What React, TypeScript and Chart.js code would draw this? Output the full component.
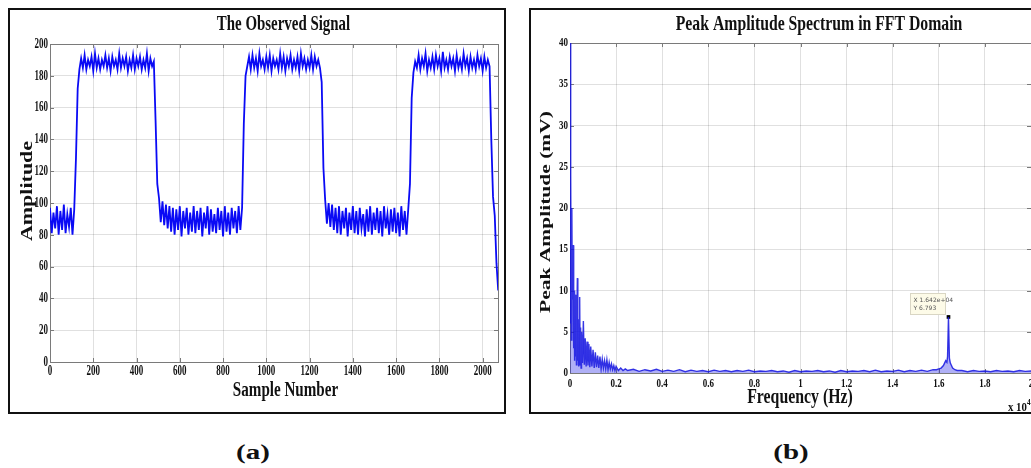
import React, { useEffect, useRef } from 'react';
import { Chart, registerables } from 'chart.js';

Chart.register(...registerables);

const SERIF = '"Liberation Serif", "Times New Roman", serif';
const GRID = 'rgba(0,0,0,0.12)';

// ---------- Panel (a): The Observed Signal (values on an 8-sample grid) ----------
const SAMPLE_STEP = 8;
const sigLow1 = [97, 81, 94, 84, 98, 80, 95, 83, 99, 81, 93, 85, 97, 80, 96];
const sigRise1 = [128, 172, 184];
const sigHigh1 = [191, 185, 193, 184, 190, 186, 192, 183, 194, 185, 191, 184, 190, 186, 193, 185, 191, 183, 192, 186, 190, 184, 194, 185, 191, 186, 192, 183, 190, 185, 193, 184, 191, 186, 192, 184, 190, 185, 194, 183, 191, 186, 189];
const sigFall1 = [152, 112];
const sigLow2 = [103, 88, 101, 86, 99, 84, 98, 82, 97, 80, 96, 83, 98, 79, 95, 84, 97, 80, 94, 82, 98, 81, 95, 83, 97, 79, 94, 84, 98, 80, 96, 82, 93, 81, 97, 83, 95, 79, 98, 82, 94, 80, 97, 84, 95, 81, 98, 83];
const sigRise2 = [97, 150, 180];
const sigHigh2 = [186, 192, 184, 193, 185, 191, 183, 194, 186, 190, 184, 192, 185, 193, 183, 191, 186, 190, 184, 194, 185, 192, 183, 191, 186, 193, 184, 190, 185, 192, 183, 194, 186, 191, 184, 190, 185, 193, 184, 192, 186, 190, 185];
const sigFall2 = [176, 122];
const sigLow3 = [102, 87, 100, 85, 99, 83, 97, 81, 98, 80, 95, 84, 97, 79, 94, 83, 98, 81, 95, 80, 97, 84, 93, 79, 96, 82, 98, 80, 94, 83, 97, 81, 95, 79, 98, 84, 93, 80, 96, 82, 97, 81, 94, 79, 98, 83, 95, 80, 96];
const sigRise3 = [112, 166, 182];
const sigHigh3 = [189, 185, 193, 184, 191, 186, 194, 183, 190, 185, 192, 184, 193, 186, 191, 183, 195, 185, 190, 184, 192, 186, 191, 183, 193, 185, 190, 184, 194, 186, 191, 183, 192, 185, 190, 184, 193, 186, 191, 183, 192, 185, 190, 186];
const sigEnd = [140, 104, 92, 62, 45];

const sampleTicks = [0, 200, 400, 600, 800, 1000, 1200, 1400, 1600, 1800, 2000];
const sampleTickLabels = ['0', '200', '400', '600', '800', '1000', '1200', '1400', '1600', '1800', '2000'];
const ampTicksA = [0, 20, 40, 60, 80, 100, 120, 140, 160, 180, 200];
const ampTickLabelsA = ['0', '20', '40', '60', '80', '100', '120', '140', '160', '180', '200'];

// ---------- Panel (b): Peak Amplitude Spectrum (frequency in units of 10^4 Hz) ----------
const specLowFreq = [0, 0.002, 0.004, 0.006, 0.008, 0.010, 0.012, 0.014, 0.016, 0.018, 0.020, 0.022, 0.024, 0.026, 0.028, 0.030, 0.032, 0.034, 0.036, 0.038, 0.040, 0.042, 0.044, 0.046, 0.048, 0.050, 0.054, 0.058, 0.062, 0.066, 0.070, 0.074, 0.078, 0.082, 0.086, 0.090, 0.095, 0.100, 0.105, 0.110, 0.115, 0.120, 0.125, 0.130, 0.135, 0.140, 0.145, 0.150, 0.155, 0.160, 0.165, 0.170, 0.175, 0.180, 0.185, 0.190, 0.195, 0.200, 0.210, 0.220, 0.230, 0.240, 0.250];
const specLowAmp = [42, 6, 24, 4, 20, 9, 12, 15.5, 3, 10, 1.5, 9.5, 2, 8.5, 1, 7.5, 11.5, 1.5, 6.5, 0.8, 6, 9.2, 1, 5.5, 0.6, 5, 1.2, 6.3, 1, 4.2, 0.8, 3.8, 0.9, 3.5, 0.7, 3.2, 0.8, 2.8, 0.6, 2.5, 0.7, 2.1, 0.6, 2.0, 0.5, 1.7, 0.6, 1.5, 0.5, 1.6, 0.4, 1.3, 0.5, 1.1, 0.4, 0.9, 0.3, 0.8, 0.3, 0.6, 0.3, 0.5, 0.3];
const SPEC_GRID_STEP = 0.025;
const specMidStart = 0.275;
const specMidAmp = [0.45, 0.2, 0.4, 0.25, 0.45, 0.2, 0.35, 0.2, 0.4, 0.15, 0.35, 0.2, 0.3, 0.15, 0.35, 0.2, 0.3, 0.15, 0.3, 0.2, 0.35, 0.15, 0.25, 0.2, 0.3, 0.15, 0.25, 0.1, 0.3, 0.15, 0.25, 0.2, 0.3, 0.15, 0.25, 0.1, 0.3, 0.15, 0.25, 0.2, 0.3, 0.15, 0.35, 0.15, 0.25, 0.2, 0.35, 0.15, 0.3, 0.2, 0.35, 0.2, 0.4];
const specPeakFreq = [1.59, 1.6, 1.61, 1.62, 1.625, 1.63, 1.635, 1.638, 1.642, 1.646, 1.65, 1.655, 1.66, 1.67, 1.68];
const specPeakAmp = [0.4, 0.5, 0.6, 0.9, 1.2, 1.5, 1.3, 2.0, 6.793, 1.8, 1.2, 0.9, 0.6, 0.4, 0.3];
const specTailStart = 1.7;
const specTailAmp = [0.3, 0.15, 0.3, 0.2, 0.25, 0.15, 0.3, 0.2, 0.25, 0.15, 0.3, 0.2, 0.25];

const peakFreq = 1.642;
const peakAmp = 6.793;
const datatipLines = ['X 1.642e+04', 'Y 6.793'];

const freqTicks = [0, 0.2, 0.4, 0.6, 0.8, 1, 1.2, 1.4, 1.6, 1.8, 2];
const freqTickLabels = ['0', '0.2', '0.4', '0.6', '0.8', '1', '1.2', '1.4', '1.6', '1.8', '2'];
const ampTicksB = [0, 5, 10, 15, 20, 25, 30, 35, 40];
const ampTickLabelsB = ['0', '5', '10', '15', '20', '25', '30', '35', '40'];

// ---------- build points ----------
const signalY = [
  ...sigLow1, ...sigRise1, ...sigHigh1, ...sigFall1, ...sigLow2, ...sigRise2,
  ...sigHigh2, ...sigFall2, ...sigLow3, ...sigRise3, ...sigHigh3, ...sigEnd,
];
const signalPoints = signalY.map((y, i) => ({ x: i * SAMPLE_STEP, y }));

const spectrumPoints = [
  ...specLowFreq.map((x, i) => ({ x, y: specLowAmp[i] })),
  ...specMidAmp.map((y, i) => ({ x: specMidStart + i * SPEC_GRID_STEP, y })),
  ...specPeakFreq.map((x, i) => ({ x, y: specPeakAmp[i] })),
  ...specTailAmp.map((y, i) => ({ x: specTailStart + i * SPEC_GRID_STEP, y })),
];

type TextSpec = {
  text: string; x: number; y: number; size: number; sx: number;
  align?: CanvasTextAlign; rotate?: boolean;
};

function drawText(
  ctx: CanvasRenderingContext2D, s: string, x: number, y: number, size: number, sx: number,
  align: CanvasTextAlign = 'center', baseline: CanvasTextBaseline = 'alphabetic',
  rotate = false, font = `bold ${size}px ${SERIF}`, color = '#111'
) {
  ctx.save();
  ctx.translate(x, y);
  ctx.scale(sx, 1);
  if (rotate) ctx.rotate(-Math.PI / 2);
  ctx.font = font;
  ctx.fillStyle = color;
  ctx.textAlign = align;
  ctx.textBaseline = baseline;
  ctx.fillText(s, 0, 0);
  ctx.restore();
}

function makeDecor(o: {
  xTicks: number[]; xLabels: string[]; yTicks: number[]; yLabels: string[];
  tickSize: number; tickSx: number; xLabelBaseline: number; yLabelRight: number;
  texts: TextSpec[]; after?: (chart: any) => void;
}) {
  return {
    id: 'decor',
    beforeDatasetsDraw(chart: any) {
      const { ctx, chartArea: a, scales } = chart;
      ctx.save();
      ctx.strokeStyle = '#7a7a7a';
      ctx.lineWidth = 1;
      ctx.beginPath();
      o.xTicks.forEach((v) => {
        const p = Math.round(scales.x.getPixelForValue(v)) + 0.5;
        ctx.moveTo(p, a.bottom); ctx.lineTo(p, a.bottom - 4);
        ctx.moveTo(p, a.top); ctx.lineTo(p, a.top + 4);
      });
      o.yTicks.forEach((v) => {
        const p = Math.round(scales.y.getPixelForValue(v)) + 0.5;
        ctx.moveTo(a.left, p); ctx.lineTo(a.left + 4, p);
        ctx.moveTo(a.right, p); ctx.lineTo(a.right - 4, p);
      });
      ctx.stroke();
      ctx.strokeRect(Math.round(a.left) + 0.5, Math.round(a.top) + 0.5,
        Math.round(a.right - a.left), Math.round(a.bottom - a.top));
      ctx.restore();
    },
    afterDraw(chart: any) {
      const { ctx, scales } = chart;
      o.xTicks.forEach((v, i) => {
        drawText(ctx, o.xLabels[i], scales.x.getPixelForValue(v), o.xLabelBaseline, o.tickSize, o.tickSx, 'center');
      });
      o.yTicks.forEach((v, i) => {
        drawText(ctx, o.yLabels[i], o.yLabelRight, scales.y.getPixelForValue(v), o.tickSize, o.tickSx, 'right', 'middle');
      });
      o.texts.forEach((t) => {
        drawText(ctx, t.text, t.x, t.y, t.size, t.sx, t.align ?? 'center', 'alphabetic', !!t.rotate);
      });
      if (o.after) o.after(chart);
    },
  };
}

function hiddenScale(min: number, max: number, ticks: number[]) {
  return {
    type: 'linear' as const,
    min,
    max,
    afterBuildTicks: (s: any) => { s.ticks = ticks.map((v) => ({ value: v })); },
    ticks: { display: false },
    grid: { color: GRID, lineWidth: 1, drawTicks: false },
    border: { display: false },
  };
}

export default function App() {
  const refA = useRef<HTMLCanvasElement>(null);
  const refB = useRef<HTMLCanvasElement>(null);

  useEffect(() => {
    const chartA = new Chart(refA.current as HTMLCanvasElement, {
      type: 'line',
      data: {
        datasets: [{
          data: signalPoints,
          borderColor: '#0a0af5',
          borderWidth: 1.8,
          pointRadius: 0,
          fill: false,
          tension: 0,
        }],
      },
      options: {
        animation: false,
        responsive: false,
        events: [],
        layout: { padding: { left: 41, top: 35, right: 6, bottom: 50 } },
        plugins: { legend: { display: false }, tooltip: { enabled: false }, title: { display: false } },
        scales: {
          x: hiddenScale(0, 2071, sampleTicks),
          y: hiddenScale(0, 200, ampTicksA),
        },
      } as any,
      plugins: [makeDecor({
        xTicks: sampleTicks, xLabels: sampleTickLabels,
        yTicks: ampTicksA, yLabels: ampTickLabelsA,
        tickSize: 15, tickSx: 0.6, xLabelBaseline: 366, yLabelRight: 39,
        texts: [
          { text: 'The Observed Signal', x: 274.5, y: 20.5, size: 21, sx: 0.71 },
          { text: 'Sample Number', x: 276.5, y: 386.5, size: 20, sx: 0.755 },
          { text: 'Amplitude', x: 22.5, y: 182, size: 22, sx: 0.73, rotate: true },
        ],
      })],
    });

    const chartB = new Chart(refB.current as HTMLCanvasElement, {
      type: 'line',
      data: {
        datasets: [
          {
            data: spectrumPoints,
            borderColor: 'rgba(20,20,225,0.85)',
            backgroundColor: 'rgba(30,30,230,0.35)',
            borderWidth: 1.4,
            pointRadius: 0,
            fill: 'origin',
            tension: 0,
          },
          {
            data: [{ x: peakFreq, y: peakAmp }],
            showLine: false,
            pointStyle: 'rect',
            pointRadius: 2.6,
            backgroundColor: '#000',
            borderColor: '#000',
            borderWidth: 0,
          },
        ],
      },
      options: {
        animation: false,
        responsive: false,
        events: [],
        layout: { padding: { left: 40, top: 33, right: 9, bottom: 40 } },
        plugins: { legend: { display: false }, tooltip: { enabled: false }, title: { display: false }, filler: { propagate: false } },
        scales: {
          x: hiddenScale(0, 2, freqTicks),
          y: hiddenScale(0, 40, ampTicksB),
        },
      } as any,
      plugins: [makeDecor({
        xTicks: freqTicks, xLabels: freqTickLabels,
        yTicks: ampTicksB, yLabels: ampTickLabelsB,
        tickSize: 12, tickSx: 0.75, xLabelBaseline: 377, yLabelRight: 38,
        texts: [
          { text: 'Peak Amplitude Spectrum in FFT Domain', x: 289, y: 20, size: 21, sx: 0.75 },
          { text: 'Frequency (Hz)', x: 270, y: 393, size: 22, sx: 0.72 },
          { text: 'Peak Amplitude (mV)', x: 19.5, y: 202, size: 21.5, sx: 0.7, rotate: true },
          { text: 'x 10', x: 478, y: 401, size: 12, sx: 0.9, align: 'left' },
          { text: '4', x: 497, y: 395, size: 8, sx: 0.9, align: 'left' },
        ],
        after: (chart: any) => {
          const { ctx, scales } = chart;
          const mx = scales.x.getPixelForValue(peakFreq);
          const my = scales.y.getPixelForValue(peakAmp);
          const x0 = Math.round(mx - 38) + 0.5;
          const y0 = Math.round(my - 24) + 0.5;
          ctx.save();
          ctx.fillStyle = '#fdfbe8';
          ctx.strokeStyle = '#d9d6c4';
          ctx.lineWidth = 1;
          ctx.fillRect(x0, y0, 35, 21);
          ctx.strokeRect(x0, y0, 35, 21);
          ctx.restore();
          datatipLines.forEach((line, i) => {
            drawText(ctx, line, x0 + 3, y0 + 8 + i * 8, 6, 1, 'left', 'alphabetic', false,
              `6px "DejaVu Sans", sans-serif`, '#555');
          });
        },
      })],
    });

    return () => {
      chartA.destroy();
      chartB.destroy();
    };
  }, []);

  const panelLabel = (cx: number, text: string) => (
    <div
      style={{
        position: 'absolute', left: cx - 50, top: 439, width: 100, height: 26,
        textAlign: 'center', font: `bold 20px ${SERIF}`, lineHeight: '26px', color: '#111',
        transform: 'scaleX(1.45)', transformOrigin: 'center',
      }}
    >
      {text}
    </div>
  );

  return (
    <div style={{ position: 'fixed', left: 0, top: 0, width: 1031, height: 468, overflow: 'hidden', background: '#fff' }}>
      <div style={{ position: 'absolute', left: 8, top: 8, width: 498, height: 406, border: '2px solid #111', boxSizing: 'border-box' }} />
      <div style={{ position: 'absolute', left: 529, top: 8, width: 530, height: 406, border: '2px solid #111', boxSizing: 'border-box' }} />
      <canvas ref={refA} width={495} height={403} style={{ position: 'absolute', left: 9, top: 9, width: 495, height: 403 }} />
      <canvas ref={refB} width={510} height={403} style={{ position: 'absolute', left: 530, top: 10, width: 510, height: 403 }} />
      {panelLabel(253, '(a)')}
      {panelLabel(790.5, '(b)')}
    </div>
  );
}
